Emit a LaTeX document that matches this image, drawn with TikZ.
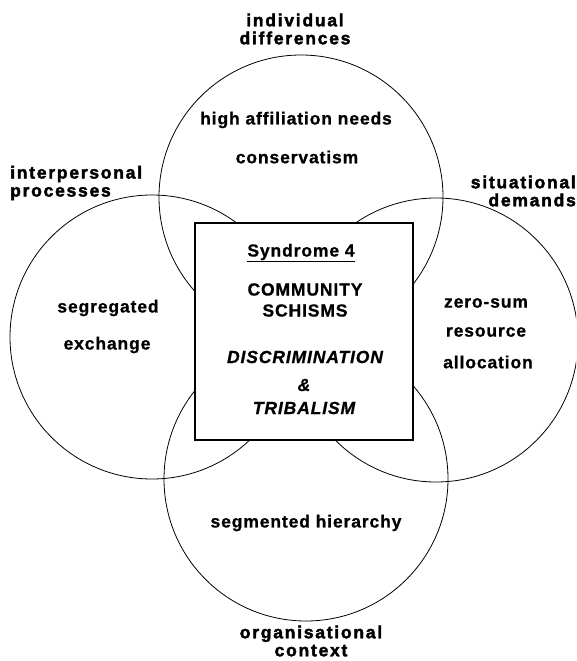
\documentclass[tikz,border=0pt]{standalone}
\usepackage{fontspec}
\setmainfont{Liberation Sans}
\newfontfamily\facetfont[LetterSpace=5,FakeBold=0.8]{Liberation Sans}
\newfontfamily\headfont[LetterSpace=10,FakeBold=2.2]{Liberation Sans}
\begin{document}
\begin{tikzpicture}[x=1pt,y=-1pt,
  ring/.style={circle,draw,line width=0.8pt,minimum size=284pt,inner sep=0pt},
  core/.style={draw,fill=white,line width=1.1pt,minimum width=218pt,minimum height=217pt,inner sep=0pt},
  facet/.style={font=\facetfont\bfseries\fontsize{17.5}{21}\selectfont,align=center,inner sep=0pt},
  heading/.style={font=\headfont\bfseries\fontsize{17.5}{18}\selectfont,inner sep=0pt}]
\useasboundingbox (0,0) rectangle (576,661);
\clip (0,0) rectangle (576,661);

% the four overlapping domains
\node[ring] (top)    at (301,197) {};
\node[ring] (left)   at (152,337) {};
\node[ring] (right)  at (436,340) {};
\node[ring] (bottom) at (306,479) {};

% central syndrome box
\node[core] (box) at (304,331.5) {};

% domain headings
\node[heading,align=center] (hTop) at (295,29) {individual\\differences};
\node[heading,align=left,anchor=west] (hLeft) at (10,183) {interpersonal\\processes};
\node[heading,align=right,anchor=east] (hRight) at (576,191) {situational\\demands};
\node[heading,align=center] (hBottom) at (311,641) {organisational\\context};

% domain contents
\node[facet] (t1) at (296,120) {high affiliation needs};
\node[facet] (t2) at (297,157) {conservatism};
\node[facet] (l1) at (108,308) {segregated};
\node[facet] (l2) at (107,345) {exchange};
\node[facet] (r1) at (486,303) {zero-sum};
\node[facet] (r2) at (486,332) {resource};
\node[facet] (r3) at (488,362) {allocation};
\node[facet] (b1) at (306,523) {segmented hierarchy};

% box contents
\node[facet] (s1) at (301,253) {\underline{Syndrome 4}};
\node[facet] (s2) at (305,300) {COMMUNITY\\SCHISMS};
\node[facet] (s3) at (305,357) {\itshape DISCRIMINATION};
\node[facet] (s4) at (304,385) {\itshape\&};
\node[facet] (s5) at (304,408) {\itshape TRIBALISM};
\end{tikzpicture}
\end{document}
